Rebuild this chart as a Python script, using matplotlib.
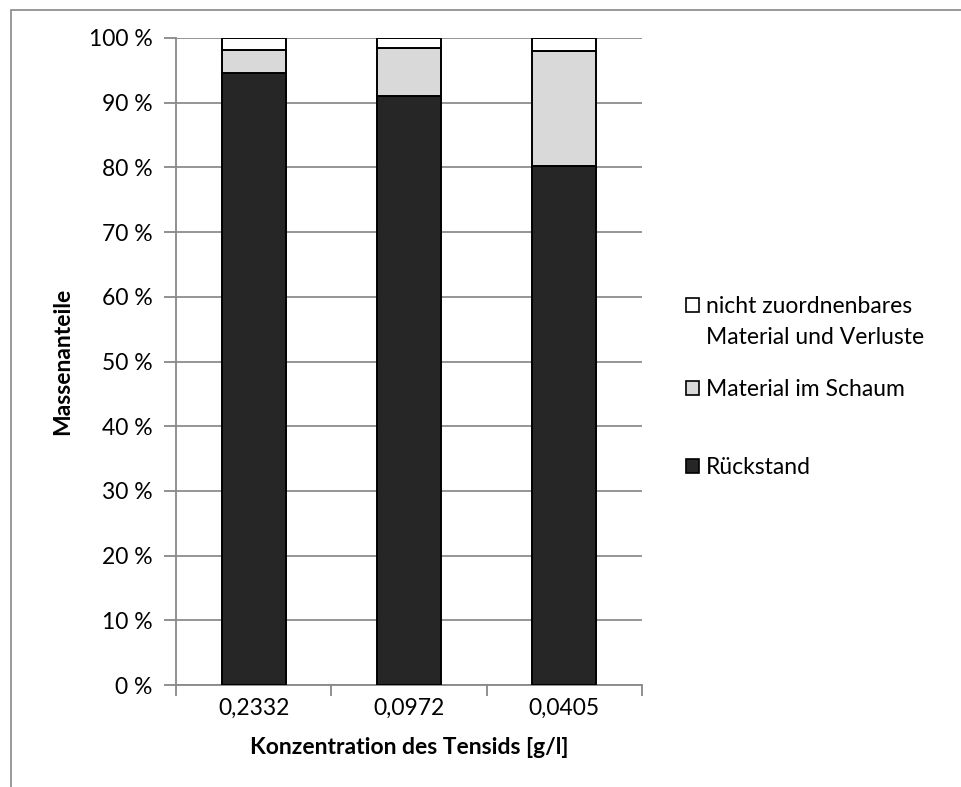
import matplotlib.pyplot as plt
import numpy as np
from matplotlib.patches import Rectangle

plt.rcParams['font.family'] = ['Lato', 'DejaVu Sans']

konzentration = ['0,2332', '0,0972', '0,0405']
rueckstand = [94.6, 91.0, 80.2]
schaum = [3.6, 7.4, 17.8]
verluste = [100 - r - s for r, s in zip(rueckstand, schaum)]

serien = ['Rückstand', 'Material im Schaum',
          'nicht zuordnenbares\nMaterial und Verluste']
farben = ['#262626', '#d9d9d9', '#ffffff']

fs = 16.5
fig = plt.figure(figsize=(9.61, 7.87), dpi=100)
ax = fig.add_axes([176 / 961, 1 - 685 / 787, 466 / 961, 647 / 787])

x = np.arange(len(konzentration))
unten = np.zeros(len(x))
for werte, farbe in zip([rueckstand, schaum, verluste], farben):
    ax.bar(x, werte, width=0.41, bottom=unten, color=farbe,
           edgecolor='black', linewidth=1.4, zorder=3)
    unten += np.array(werte)

ax.set_xlim(-0.5, 2.5)
ax.set_ylim(0, 100)
ax.set_yticks(np.arange(0, 101, 10))
ax.set_yticklabels([f'{v} %' for v in range(0, 101, 10)])
ax.set_xticks(x)
ax.set_xticklabels(konzentration)
ax.set_xticks([-0.5, 0.5, 1.5, 2.5], minor=True)
ax.tick_params(axis='x', which='major', length=0, pad=9, labelsize=fs)
ax.tick_params(axis='x', which='minor', length=8, color='#888888', width=1.3)
ax.tick_params(axis='y', length=9, color='#888888', width=1.3, pad=8, labelsize=fs)
ax.grid(axis='y', color='#8c8c8c', linewidth=1.3, zorder=0)
for s in ['top', 'right']:
    ax.spines[s].set_visible(False)
for s in ['left', 'bottom']:
    ax.spines[s].set_color('#888888')
    ax.spines[s].set_linewidth(1.3)

ax.set_ylabel('Massenanteile', fontsize=fs, fontweight='bold', labelpad=11)
ax.set_xlabel('Konzentration des Tensids [g/l]', fontsize=fs,
              fontweight='bold', labelpad=13)

# Legende von Hand, oberster Eintrag zuerst (Mitte der ersten Zeile in px)
legende_y = [305, 388, 466]
for name, farbe, ly in zip(serien[::-1], farben[::-1], legende_y):
    fig.patches.append(Rectangle((686 / 961, 1 - (ly + 7) / 787), 13 / 961, 14 / 787,
                                 transform=fig.transFigure, facecolor=farbe,
                                 edgecolor='black', linewidth=1.2))
    fig.text(706 / 961, 1 - (ly - 9) / 787, name, fontsize=fs, va='top',
             ha='left', linespacing=1.6)

# Rahmen um das Diagramm
fig.patches.append(Rectangle((11 / 961, -0.1), 1.2, 1 - 10 / 787 + 0.1,
                             transform=fig.transFigure, fill=False,
                             edgecolor='#888888', linewidth=1.2))

fig.savefig('out.png', dpi=100)
